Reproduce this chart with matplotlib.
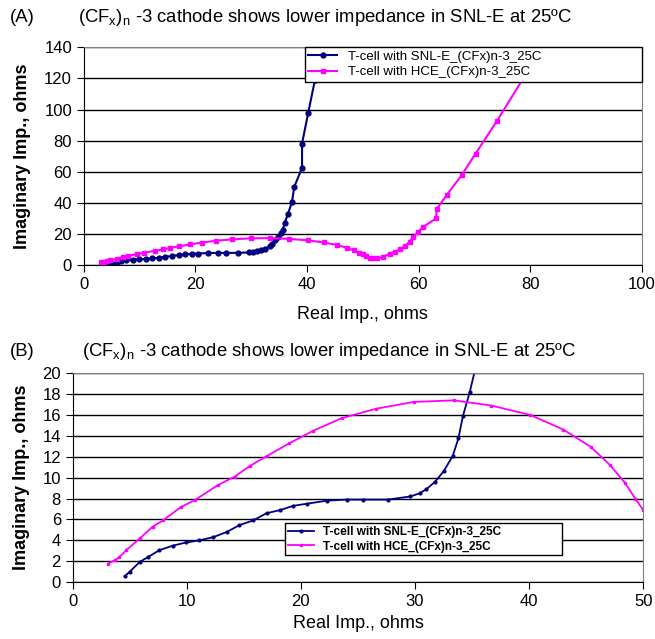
import matplotlib.pyplot as plt

plt.rcParams['font.family'] = ['Liberation Sans', 'DejaVu Sans']
plt.rcParams['mathtext.fontset'] = 'custom'
plt.rcParams['mathtext.rm'] = 'Liberation Sans'

# SNL-E cell (real, imaginary) in ohms
snl_re = [4.56, 5.0, 5.88, 6.6, 7.6, 8.8, 9.97, 11.1, 12.3, 13.5, 14.6, 15.8, 17.0,
          18.2, 19.3, 20.5, 22.3, 24.0, 25.4, 27.6, 29.6, 30.4, 31.0, 31.75, 32.5,
          33.3, 33.8, 34.2, 34.8, 35.3, 35.6, 36.0, 36.6, 37.3, 37.7, 39.1, 39.1,
          40.2, 41.4, 42.6]
snl_im = [0.57, 1.0, 1.94, 2.4, 3.06, 3.5, 3.8, 4.0, 4.3, 4.8, 5.45, 5.9, 6.6,
          6.9, 7.3, 7.5, 7.8, 7.9, 7.9, 7.9, 8.2, 8.5, 8.9, 9.6, 10.6,
          12.06, 13.75, 15.9, 18.2, 20.5, 22.5, 27.2, 33.2, 40.7, 50.3, 62.5, 78.1,
          97.8, 118.8, 142.0]

# HCE cell (real, imaginary) in ohms
hce_re = [3.1, 3.7, 4.1, 4.7, 5.9, 7.0, 7.9, 9.5, 10.7, 12.75, 14.2, 15.5, 17.0,
          19.0, 21.1, 23.6, 26.6, 29.9, 33.4, 36.7, 40.1, 43.0, 45.4, 47.1, 48.4,
          49.3, 50.0, 50.6, 51.3, 51.8, 52.6, 53.6, 54.8, 55.7, 56.6, 57.5, 58.4,
          59.0, 59.9, 60.8, 63.1, 63.3, 65.0, 67.7, 70.2, 74.0, 78.9, 82.0]
hce_im = [1.78, 2.1, 2.4, 3.06, 4.2, 5.3, 5.9, 7.2, 7.85, 9.3, 10.1, 11.1, 12.06,
          13.3, 14.5, 15.7, 16.6, 17.25, 17.4, 16.9, 16.0, 14.6, 12.95, 11.2, 9.5,
          8.0, 6.9, 5.9, 4.9, 4.3, 4.4, 5.2, 7.5, 8.6, 10.1, 12.2, 15.0,
          18.2, 21.4, 24.6, 30.0, 36.4, 45.0, 57.8, 71.7, 92.5, 121.0, 142.0]

title = r'(CF$_\mathregular{x}$)$_\mathregular{n}$ -3 cathode shows lower impedance in SNL-E at 25ºC'
lab_snl = 'T-cell with SNL-E_(CFx)n-3_25C'
lab_hce = 'T-cell with HCE_(CFx)n-3_25C'

fig = plt.figure(figsize=(6.55, 6.39), dpi=100)
axA = fig.add_axes([0.128, 0.585, 0.852, 0.341])
axB = fig.add_axes([0.111, 0.089, 0.871, 0.327])


def style(ax):
    ax.grid(True, axis='y', color='black', linewidth=1)
    ax.set_axisbelow(True)
    for s in ['top', 'right']:
        ax.spines[s].set_color('gray')
    ax.tick_params(direction='out', length=5, labelsize=12, color='black')


# Panel A
axA.plot(snl_re, snl_im, color='#000080', marker='o', markersize=3.5, linewidth=1.5, label=lab_snl)
axA.plot(hce_re, hce_im, color='#FF00FF', marker='s', markersize=3.5, linewidth=1.5, label=lab_hce)
axA.set_xlim(0, 100)
axA.set_ylim(0, 140)
axA.set_xticks(range(0, 101, 20))
axA.set_yticks(range(0, 141, 20))
style(axA)
legA = axA.legend(loc='upper left', bbox_to_anchor=(0.396, 1.0, 0.604, 0.0), mode='expand',
                  fontsize=9.5, frameon=True, fancybox=False, edgecolor='black',
                  borderpad=0.25, labelspacing=0.25, handlelength=2.2, borderaxespad=0)
legA.get_frame().set_linewidth(1)
legA.get_frame().set_alpha(1)
axA.set_xlabel('Real Imp., ohms', fontsize=13)
axA.set_ylabel('Imaginary Imp., ohms', fontsize=13, fontweight='bold')
axA.xaxis.set_label_coords(0.5, -0.188)
axA.yaxis.set_label_coords(-0.095, 0.5)

# Panel B
axB.plot(snl_re, snl_im, color='#000080', marker='o', markersize=2, linewidth=1.3, label=lab_snl)
axB.plot(hce_re, hce_im, color='#FF00FF', marker='s', markersize=2, linewidth=1.3, label=lab_hce)
axB.set_xlim(0, 50)
axB.set_ylim(0, 20)
axB.set_xticks(range(0, 51, 10))
axB.set_yticks(range(0, 21, 2))
style(axB)
legB = axB.legend(loc='upper left', bbox_to_anchor=(0.372, 0.282, 0.486, 0.0), mode='expand',
                  prop={'size': 8.5, 'weight': 'bold'}, frameon=True, fancybox=False,
                  edgecolor='black', borderpad=0.25, labelspacing=0.2, handlelength=2.2,
                  borderaxespad=0)
legB.get_frame().set_linewidth(1)
legB.get_frame().set_alpha(1)
axB.set_xlabel('Real Imp., ohms', fontsize=13)
axB.set_ylabel('Imaginary Imp., ohms', fontsize=13, fontweight='bold')
axB.xaxis.set_label_coords(0.5, -0.158)
axB.yaxis.set_label_coords(-0.074, 0.5)

fig.text(10 / 655, 1 - 18 / 639, '(A)', fontsize=13.3, va='center')
fig.text(78 / 655, 1 - 18 / 639, title, fontsize=13.3, va='center')
fig.text(10 / 655, 1 - 352 / 639, '(B)', fontsize=13.3, va='center')
fig.text(82 / 655, 1 - 352 / 639, title, fontsize=13.3, va='center')

fig.savefig('out.png', dpi=100)
